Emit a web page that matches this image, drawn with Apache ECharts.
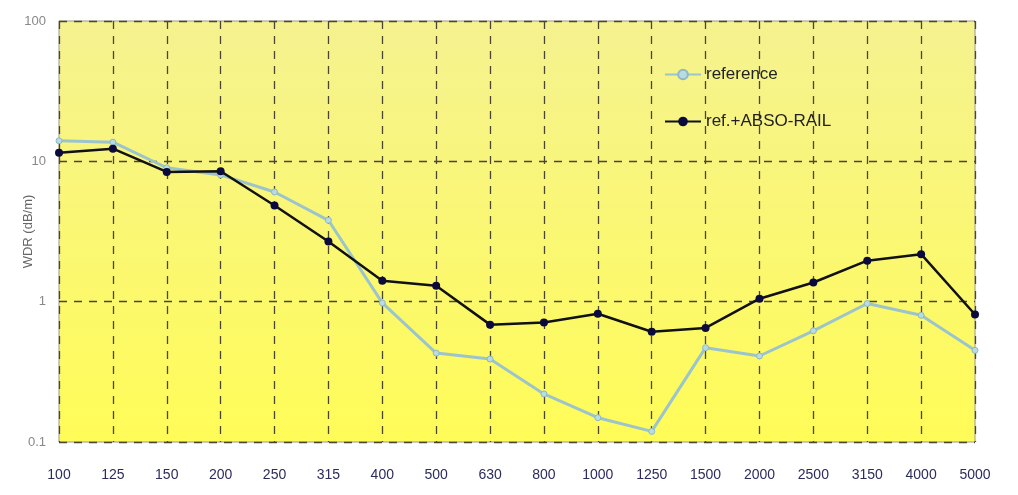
<!DOCTYPE html>
<html><head><meta charset="utf-8">
<script src="https://cdn.jsdelivr.net/npm/echarts@6/dist/echarts.min.js"></script>
<style>html,body{margin:0;padding:0;background:#fff}#c{width:1018px;height:495px}</style>
</head><body><div id="c"></div>
<script>
var categories = ['100','125','150','200','250','315','400','500','630','800','1000','1250','1500','2000','2500','3150','4000','5000'];
var referenceValues = [14.0, 13.7, 9.0, 8.0, 6.05, 3.8, 0.98, 0.43, 0.39, 0.22, 0.149, 0.119, 0.47, 0.41, 0.62, 0.97, 0.80, 0.45];
var absoRailValues = [11.5, 12.3, 8.4, 8.5, 4.85, 2.68, 1.41, 1.30, 0.686, 0.71, 0.82, 0.61, 0.65, 1.05, 1.37, 1.96, 2.18, 0.81];
var yTicks = [0.1, 1, 10, 100];

var chart = echarts.init(document.getElementById('c'));
chart.setOption({
  backgroundColor: '#ffffff',
  animation: false,
  grid: {
    left: 59, right: 43, top: 21, bottom: 53,
    containLabel: false,
    outerBoundsMode: 'none',
    show: true,
    backgroundColor: new echarts.graphic.LinearGradient(0, 0, 0, 1, [
      {offset: 0, color: '#f5f290'},
      {offset: 1, color: '#fffc58'}
    ]),
    borderColor: '#9a9888',
    borderWidth: 1
  },
  legend: {
    orient: 'vertical',
    left: 659, top: 61,
    itemGap: 30,
    itemWidth: 36, itemHeight: 12,
    textStyle: {fontSize: 17, color: '#222', fontFamily: 'Liberation Sans, Arial, sans-serif'},
    data: ['reference', 'ref.+ABSO-RAIL']
  },
  xAxis: {
    type: 'category',
    data: categories,
    boundaryGap: false,
    axisLine: {show: false},
    axisTick: {show: false},
    axisLabel: {
      margin: 26, fontSize: 14, color: '#2c2c5c',
      fontFamily: 'Liberation Sans, Arial, sans-serif',
      interval: 0
    },
    splitLine: {show: true, interval: 0, lineStyle: {type: [8, 7], color: '#4a4630', width: 1.3}}
  },
  yAxis: {
    type: 'log',
    logBase: 10,
    min: 0.1, max: 100,
    name: 'WDR (dB/m)',
    nameLocation: 'middle',
    nameGap: 24,
    nameRotate: 90,
    nameMoveOverlap: false,
    nameTextStyle: {fontSize: 13, color: '#666', fontFamily: 'Liberation Sans, Arial, sans-serif'},
    axisLine: {show: false},
    axisTick: {show: false},
    axisLabel: {
      fontSize: 13, color: '#888', margin: 13,
      fontFamily: 'Liberation Sans, Arial, sans-serif',
      formatter: function (v) {
        for (var i = 0; i < yTicks.length; i++) {
          if (Math.abs(v - yTicks[i]) / yTicks[i] < 1e-6) return String(yTicks[i]);
        }
        return '';
      }
    },
    splitLine: {show: true, lineStyle: {type: [8, 7], color: '#4a4630', width: 1.3}}
  },
  series: [
    {
      name: 'reference',
      type: 'line',
      data: referenceValues,
      symbol: 'circle',
      symbolSize: 6,
      z: 2,
      lineStyle: {color: '#9cc4cc', width: 3},
      itemStyle: {color: '#b8dce4', borderColor: '#8fb8c4', borderWidth: 1}
    },
    {
      name: 'ref.+ABSO-RAIL',
      type: 'line',
      data: absoRailValues,
      symbol: 'circle',
      symbolSize: 8,
      z: 3,
      lineStyle: {color: '#111111', width: 2.5},
      itemStyle: {color: '#0a0a3c', borderColor: '#0a0a3c', borderWidth: 0}
    }
  ]
});
</script>
</body></html>
